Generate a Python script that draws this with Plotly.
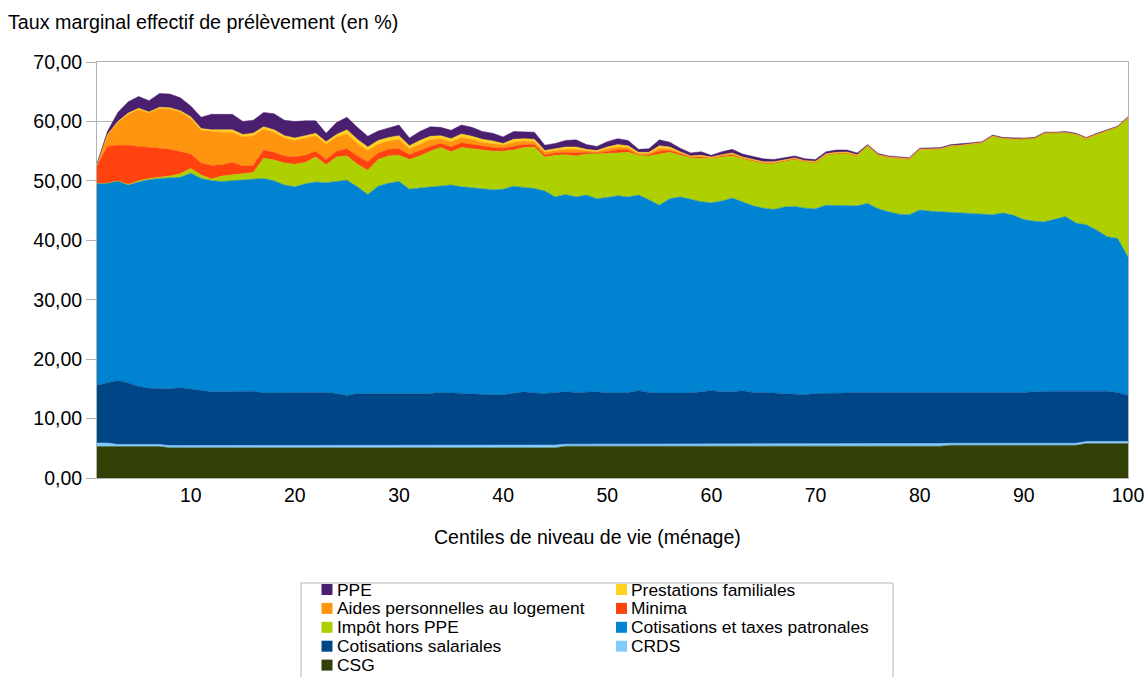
import plotly.graph_objects as go

centiles = list(range(1, 101))

csg = [5.3, 5.3, 5.3, 5.3, 5.3, 5.3, 5.3, 5.1, 5.1, 5.1,
       5.2, 5.2, 5.2, 5.2, 5.1, 5.1, 5.1, 5.2, 5.2, 5.2,
       5.2, 5.2, 5.2, 5.1, 5.1, 5.1, 5.1, 5.2, 5.2, 5.2,
       5.2, 5.1, 5.1, 5.1, 5.2, 5.2, 5.1, 5.1, 5.1, 5.1,
       5.1, 5.1, 5.1, 5.1, 5.1, 5.35, 5.35, 5.35, 5.35, 5.35,
       5.35, 5.35, 5.35, 5.35, 5.35, 5.35, 5.35, 5.35, 5.35, 5.35,
       5.35, 5.35, 5.35, 5.35, 5.35, 5.35, 5.35, 5.35, 5.35, 5.35,
       5.35, 5.35, 5.35, 5.35, 5.35, 5.35, 5.35, 5.35, 5.35, 5.35,
       5.35, 5.35, 5.5, 5.5, 5.5, 5.5, 5.5, 5.5, 5.5, 5.5,
       5.5, 5.5, 5.5, 5.5, 5.5, 5.8, 5.8, 5.8, 5.8, 5.8]

crds = [0.6, 0.6, 0.35, 0.35, 0.35, 0.35, 0.35, 0.35, 0.35, 0.35,
        0.35, 0.35, 0.35, 0.35, 0.35, 0.35, 0.35, 0.35, 0.35, 0.35,
        0.35, 0.35, 0.35, 0.35, 0.35, 0.35, 0.35, 0.35, 0.35, 0.35,
        0.35, 0.35, 0.35, 0.35, 0.35, 0.35, 0.35, 0.35, 0.35, 0.35,
        0.45, 0.45, 0.45, 0.45, 0.45, 0.35, 0.35, 0.35, 0.35, 0.35,
        0.35, 0.35, 0.35, 0.35, 0.35, 0.35, 0.35, 0.35, 0.35, 0.35,
        0.35, 0.35, 0.35, 0.35, 0.35, 0.35, 0.35, 0.35, 0.35, 0.35,
        0.35, 0.35, 0.35, 0.35, 0.35, 0.45, 0.45, 0.45, 0.45, 0.45,
        0.45, 0.45, 0.35, 0.35, 0.35, 0.35, 0.35, 0.35, 0.35, 0.35,
        0.35, 0.35, 0.35, 0.35, 0.35, 0.35, 0.35, 0.35, 0.35, 0.35]

cot_salariales = [9.7, 10.1, 10.75, 10.35, 9.75, 9.45, 9.35, 9.55, 9.75, 9.55,
                  9.25, 8.95, 8.95, 8.95, 9.15, 9.15, 8.85, 8.75, 8.75, 8.85,
                  8.85, 8.85, 8.85, 8.75, 8.45, 8.75, 8.75, 8.65, 8.65, 8.65,
                  8.65, 8.65, 8.75, 8.95, 8.75, 8.75, 8.75, 8.65, 8.55, 8.55,
                  8.75, 8.95, 8.75, 8.65, 8.85, 8.8, 8.7, 8.8, 8.8, 8.6,
                  8.6, 8.7, 9.0, 8.7, 8.6, 8.6, 8.6, 8.6, 8.8, 9.0,
                  8.8, 8.8, 9.0, 8.7, 8.7, 8.6, 8.5, 8.3, 8.3, 8.5,
                  8.5, 8.6, 8.6, 8.7, 8.7, 8.5, 8.5, 8.6, 8.6, 8.6,
                  8.6, 8.5, 8.45, 8.55, 8.55, 8.55, 8.45, 8.45, 8.55, 8.55,
                  8.65, 8.75, 8.75, 8.75, 8.75, 8.55, 8.45, 8.45, 8.25, 7.75]

cot_patronales = [34.0, 33.6, 33.6, 33.3, 34.4, 35.1, 35.4, 35.5, 35.4, 36.3,
                  35.6, 35.5, 35.4, 35.5, 35.5, 35.6, 36.1, 35.7, 35.0, 34.6,
                  35.1, 35.4, 35.3, 35.7, 36.2, 34.8, 33.5, 34.9, 35.4, 35.7,
                  34.4, 34.7, 34.8, 34.8, 35.0, 34.7, 34.6, 34.5, 34.5, 34.6,
                  34.8, 34.4, 34.4, 34.1, 32.9, 33.2, 32.9, 33.1, 32.5, 32.9,
                  33.2, 32.9, 32.9, 32.4, 31.6, 32.7, 33.0, 32.6, 32.0, 31.6,
                  32.1, 32.6, 31.8, 31.4, 31.0, 30.9, 31.4, 31.7, 31.4, 31.1,
                  31.7, 31.6, 31.5, 31.4, 31.8, 31.0, 30.5, 30.0, 29.9, 30.7,
                  30.5, 30.5, 30.4, 30.2, 30.2, 30.1, 30.0, 30.3, 29.8, 29.1,
                  28.7, 28.5, 29.0, 29.4, 28.3, 27.9, 27.1, 26.0, 25.9, 23.3]

impot_hors_ppe = [0.0, 0.0, 0.0, 0.1, 0.2, 0.2, 0.2, 0.3, 0.6, 0.8,
                  0.6, 0.3, 0.9, 1.0, 1.1, 1.2, 3.4, 3.5, 3.7, 3.8,
                  3.6, 4.2, 3.0, 4.1, 4.1, 3.8, 4.1, 4.5, 4.6, 4.4,
                  5.0, 5.4, 6.0, 6.4, 5.6, 6.6, 6.6, 6.6, 6.5, 6.4,
                  6.1, 6.7, 7.0, 5.7, 7.0, 6.7, 6.9, 6.9, 7.5, 7.4,
                  7.2, 7.5, 6.7, 7.4, 8.6, 7.8, 7.0, 7.0, 7.3, 7.5,
                  7.4, 7.1, 7.2, 7.5, 7.5, 7.7, 7.7, 7.9, 7.8, 7.8,
                  8.4, 8.7, 8.8, 8.4, 9.7, 9.0, 9.1, 9.3, 9.3, 10.15,
                  10.45, 10.55, 11.15, 11.35, 11.6, 11.9, 13.2, 12.5, 12.8, 13.5,
                  13.9, 14.9, 14.4, 14.1, 14.9, 14.4, 16.1, 17.8, 18.7, 23.3]

minima = [2.9, 6.2, 6.0, 6.6, 5.8, 5.3, 4.9, 4.5, 3.7, 2.4,
          2.0, 2.3, 1.9, 2.1, 1.3, 1.2, 1.4, 1.3, 1.2, 1.2,
          1.2, 1.0, 0.9, 1.0, 1.2, 1.4, 1.4, 1.1, 1.1, 1.1,
          0.8, 0.9, 0.8, 0.7, 0.8, 0.8, 0.7, 0.6, 0.6, 0.5,
          0.6, 0.5, 0.4, 0.4, 0.4, 0.4, 0.5, 0.3, 0.2, 0.4,
          0.5, 0.4, 0.1, 0.2, 0.5, 0.3, 0.2, 0.1, 0.2, 0.1,
          0.2, 0.2, 0.1, 0.1, 0.1, 0.1, 0.1, 0.1, 0.05, 0.05,
          0.1, 0.05, 0.05, 0.05, 0.02, 0.05, 0.05, 0.05, 0.05, 0.03,
          0.03, 0.03, 0.03, 0.03, 0.02, 0.02, 0.02, 0.02, 0.02, 0.02,
          0.02, 0.02, 0.02, 0.02, 0.02, 0.02, 0.02, 0.02, 0.02, 0.1]

aides_logement = [0.2, 1.9, 3.8, 5.2, 6.2, 5.7, 6.7, 6.8, 6.7, 6.0,
                  5.5, 5.7, 5.5, 5.1, 4.9, 5.0, 3.5, 3.4, 3.0, 2.8,
                  2.9, 2.6, 2.6, 2.4, 2.5, 2.1, 1.9, 1.5, 1.4, 1.6,
                  1.0, 1.1, 1.1, 0.8, 0.9, 0.9, 0.9, 0.7, 0.7, 0.5,
                  0.7, 0.6, 0.5, 0.4, 0.4, 0.5, 0.6, 0.3, 0.2, 0.4,
                  0.5, 0.4, 0.2, 0.2, 0.5, 0.3, 0.2, 0.1, 0.1, 0.05,
                  0.1, 0.1, 0.1, 0.1, 0.1, 0.1, 0.05, 0.05, 0.05, 0.05,
                  0.05, 0.05, 0.1, 0.05, 0.03, 0.05, 0.05, 0.05, 0.05, 0.03,
                  0.03, 0.03, 0.03, 0.03, 0.03, 0.03, 0.03, 0.03, 0.03, 0.03,
                  0.03, 0.03, 0.03, 0.03, 0.03, 0.08, 0.03, 0.03, 0.03, 0.1]

prestations_familiales = [0.0, 0.1, 0.2, 0.2, 0.2, 0.2, 0.2, 0.2, 0.2, 0.3,
                          0.3, 0.3, 0.4, 0.4, 0.4, 0.4, 0.4, 0.4, 0.4, 0.4,
                          0.4, 0.4, 0.4, 0.4, 0.7, 0.7, 0.6, 0.6, 0.6, 0.6,
                          0.5, 0.6, 0.6, 0.5, 0.5, 0.6, 0.5, 0.5, 0.4, 0.3,
                          0.5, 0.4, 0.4, 0.3, 0.3, 0.4, 0.4, 0.2, 0.2, 0.3,
                          0.4, 0.3, 0.2, 0.2, 0.4, 0.3, 0.2, 0.1, 0.2, 0.05,
                          0.1, 0.2, 0.1, 0.1, 0.1, 0.1, 0.1, 0.1, 0.1, 0.1,
                          0.1, 0.1, 0.1, 0.1, 0.05, 0.05, 0.05, 0.05, 0.05, 0.04,
                          0.04, 0.04, 0.04, 0.04, 0.03, 0.03, 0.03, 0.03, 0.03, 0.03,
                          0.03, 0.03, 0.03, 0.03, 0.03, 0.1, 0.05, 0.05, 0.05, 0.05]

ppe = [0.2, 0.5, 1.5, 1.9, 2.0, 1.9, 2.3, 2.3, 2.2, 1.8,
       1.9, 2.6, 2.6, 2.6, 2.2, 2.2, 2.4, 2.7, 2.6, 2.8,
       2.5, 2.1, 1.4, 2.0, 2.1, 2.0, 1.8, 1.6, 1.6, 1.8,
       1.3, 1.5, 1.6, 1.4, 1.4, 1.5, 1.5, 1.3, 1.3, 1.1,
       1.3, 1.2, 1.2, 0.9, 0.9, 1.1, 1.2, 0.8, 0.7, 0.9,
       1.0, 0.9, 0.5, 0.6, 1.0, 0.8, 0.6, 0.5, 0.6, 0.3,
       0.5, 0.6, 0.5, 0.5, 0.5, 0.4, 0.35, 0.35, 0.3, 0.3,
       0.35, 0.4, 0.35, 0.3, 0.1, 0.15, 0.15, 0.15, 0.15, 0.15,
       0.15, 0.15, 0.15, 0.15, 0.12, 0.12, 0.12, 0.12, 0.12, 0.12,
       0.12, 0.12, 0.12, 0.12, 0.12, 0.1, 0.1, 0.1, 0.1, 0.05]

x_ticks = [10, 20, 30, 40, 50, 60, 70, 80, 90, 100]

# stacking order, bottom to top
series = [
    ("CSG", csg, "#314004"),
    ("CRDS", crds, "#83CAFF"),
    ("Cotisations salariales", cot_salariales, "#004586"),
    ("Cotisations et taxes patronales", cot_patronales, "#0084D1"),
    ("Impôt hors PPE", impot_hors_ppe, "#AECF00"),
    ("Minima", minima, "#FF420E"),
    ("Aides personnelles au logement", aides_logement, "#FF950E"),
    ("Prestations familiales", prestations_familiales, "#FFD320"),
    ("PPE", ppe, "#4B1F6F"),
]
colors = {name: col for name, _, col in series}

# legend layout order (row-major, 2 columns)
legend_order = ["PPE", "Prestations familiales",
                "Aides personnelles au logement", "Minima",
                "Impôt hors PPE", "Cotisations et taxes patronales",
                "Cotisations salariales", "CRDS",
                "CSG"]

FONT = "Liberation Sans, Arial, sans-serif"
W, H = 1146, 677
L, R, T, B = 97, 1128, 62, 478

fig = go.Figure()
for name, vals, col in series:
    fig.add_trace(go.Scatter(
        x=centiles, y=vals, name=name, mode="lines",
        stackgroup="one", line=dict(width=0.5, color=col),
        fillcolor=col, showlegend=False,
        hovertemplate=name + ": %{y:.2f}<extra></extra>"))


def px_x(px):
    return (px - L) / (R - L)


def px_y(py):
    return (B - py) / (B - T)


shapes = []
annotations = []

# Legend frame
shapes.append(dict(type="rect", xref="paper", yref="paper",
                   x0=px_x(301), x1=px_x(893), y0=px_y(700), y1=px_y(583),
                   line=dict(color="#b3b3b3", width=1), fillcolor="rgba(0,0,0,0)",
                   layer="above"))

col_marker_x = [327.0, 621.5]
col_text_x = [335.5, 629.5]
row_y0 = 589.5
row_step = 18.9
for i, name in enumerate(legend_order):
    r, c = divmod(i, 2)
    cy = row_y0 + r * row_step
    cx = col_marker_x[c]
    shapes.append(dict(type="rect", xref="paper", yref="paper",
                       x0=px_x(cx - 5.5), x1=px_x(cx + 5.5),
                       y0=px_y(cy + 5.5), y1=px_y(cy - 5.5),
                       line=dict(width=0), fillcolor=colors[name], layer="above"))
    annotations.append(dict(text=name, xref="paper", yref="paper",
                            x=px_x(col_text_x[c]), y=px_y(cy),
                            xanchor="left", yanchor="middle", showarrow=False,
                            borderpad=0,
                            font=dict(family=FONT, size=17.4, color="#000000")))

# Chart title (y axis title at top-left)
annotations.append(dict(text="Taux marginal effectif de prélèvement (en %)",
                        xref="paper", yref="paper", x=px_x(6), y=px_y(22),
                        xanchor="left", yanchor="middle", showarrow=False,
                        font=dict(family=FONT, size=19.7, color="#000000")))
# X axis title
annotations.append(dict(text="Centiles de niveau de vie (ménage)",
                        xref="paper", yref="paper", x=px_x(587), y=px_y(537),
                        xanchor="center", yanchor="middle", showarrow=False,
                        font=dict(family=FONT, size=19.5, color="#000000")))

fig.update_layout(
    width=W, height=H,
    margin=dict(l=L, r=W - R, t=T, b=H - B, pad=0, autoexpand=False),
    paper_bgcolor="white", plot_bgcolor="white",
    separators=", ",
    font=dict(family=FONT, size=19.5, color="#000000"),
    showlegend=False,
    shapes=shapes, annotations=annotations,
    xaxis=dict(range=[1, 100], tickvals=x_ticks, showgrid=False,
               showline=True, linecolor="#b3b3b3", linewidth=1, mirror=True,
               ticks="", zeroline=False, automargin=False,
               tickfont=dict(family=FONT, size=19.5, color="#000000")),
    yaxis=dict(range=[0, 70], dtick=10, tickformat=".2f", showgrid=True,
               gridcolor="#b3b3b3", gridwidth=1,
               showline=True, linecolor="#b3b3b3", linewidth=1, mirror=True,
               ticks="outside", ticklen=10, tickcolor="#b3b3b3",
               zeroline=False, automargin=False,
               tickfont=dict(family=FONT, size=19.5, color="#000000")),
)

fig.write_html("out.html",
               config={"displayModeBar": False},
               post_script="document.body.style.margin='0px';"
                           "document.body.style.overflow='hidden';")
